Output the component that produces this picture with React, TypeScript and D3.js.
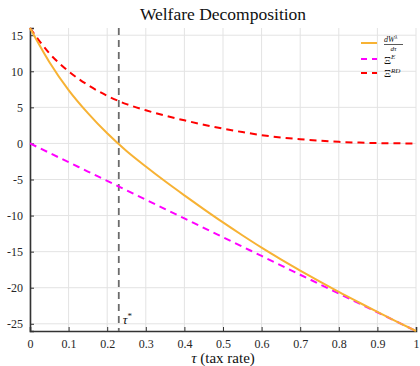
import * as d3 from "d3";
import React, { useEffect, useRef } from "react";

const tau = [0, 0.05, 0.1, 0.15, 0.2, 0.25, 0.3, 0.35, 0.4, 0.45, 0.5, 0.55, 0.6, 0.65, 0.7, 0.75, 0.8, 0.85, 0.9, 0.95, 1];
const xiRD = [16, 12.5, 10.0, 8.1, 6.6, 5.45, 4.6, 3.85, 3.2, 2.6, 2.05, 1.57, 1.15, 0.83, 0.58, 0.38, 0.22, 0.12, 0.05, 0.015, 0];
const xiE = [0, -1.3, -2.6, -3.9, -5.2, -6.5, -7.8, -9.1, -10.4, -11.7, -13, -14.3, -15.6, -16.9, -18.2, -19.5, -20.8, -22.1, -23.4, -24.7, -26];
const dW = [16, 11.3, 7.4, 4.2, 1.4, -1.05, -3.2, -5.25, -7.2, -9.1, -10.95, -12.73, -14.45, -16.07, -17.62, -19.12, -20.58, -21.98, -23.35, -24.69, -26];
const tauStar = 0.23;
const xTicks = [0, 0.1, 0.2, 0.3, 0.4, 0.5, 0.6, 0.7, 0.8, 0.9, 1];
const yTicks = [-25, -20, -15, -10, -5, 0, 5, 10, 15];

const serif = "'Liberation Serif', 'DejaVu Serif', serif";

const App = () => {
  const svgRef = useRef<SVGSVGElement>(null);

  useEffect(() => {
    const W = 420,
      H = 366;
    const margin = { top: 28, right: 4, bottom: 35, left: 30 };
    const width = W - margin.left - margin.right,
      height = H - margin.top - margin.bottom;

    const svg = d3.select(svgRef.current).html("");

    const x = d3.scaleLinear().domain([0, 1]).range([0, width]);
    const y = d3.scaleLinear().domain([-26, 16]).range([height, 0]);

    const chart = svg.append("g").attr("transform", `translate(${margin.left},${margin.top})`);

    // grid
    chart
      .append("g")
      .selectAll("line")
      .data(xTicks)
      .join("line")
      .attr("x1", (d) => x(d))
      .attr("x2", (d) => x(d))
      .attr("y1", 0)
      .attr("y2", height)
      .attr("stroke", "#e3e3e3")
      .attr("stroke-width", 1);
    chart
      .append("g")
      .selectAll("line")
      .data(yTicks)
      .join("line")
      .attr("x1", 0)
      .attr("x2", width)
      .attr("y1", (d) => y(d))
      .attr("y2", (d) => y(d))
      .attr("stroke", "#e3e3e3")
      .attr("stroke-width", 1);

    // axes (ticks pointing inward, like matlab), plain hyphen for minus
    const fmt = (d: any) => String(+d);
    const xAxis = chart
      .append("g")
      .attr("transform", `translate(0,${height})`)
      .call(d3.axisBottom(x).tickValues(xTicks).tickSize(-4).tickPadding(8).tickFormat(fmt));
    const yAxis = chart
      .append("g")
      .call(d3.axisLeft(y).tickValues(yTicks).tickSize(-4).tickPadding(7).tickFormat(fmt));

    [xAxis, yAxis].forEach((a) => {
      a.attr("font-family", serif).attr("font-size", 12);
      a.select(".domain").attr("stroke", "#333").attr("stroke-width", 1.6);
      a.selectAll(".tick line").attr("stroke", "#333").attr("stroke-width", 1);
      a.selectAll(".tick text").attr("fill", "#262626");
    });

    const line = (vals: number[]) =>
      d3
        .line<number>()
        .x((d, i) => x(tau[i]))
        .y((d) => y(d))
        .curve(d3.curveMonotoneX)(vals);

    // tau* marker
    chart
      .append("line")
      .attr("x1", x(tauStar))
      .attr("x2", x(tauStar))
      .attr("y1", 0)
      .attr("y2", height)
      .attr("stroke", "#6b6b6b")
      .attr("stroke-width", 1.8)
      .attr("stroke-dasharray", "7,5");

    chart
      .append("path")
      .attr("d", line(xiRD))
      .attr("fill", "none")
      .attr("stroke", "#ff0000")
      .attr("stroke-width", 2)
      .attr("stroke-dasharray", "7,5");

    chart
      .append("path")
      .attr("d", line(xiE))
      .attr("fill", "none")
      .attr("stroke", "#ff00ff")
      .attr("stroke-width", 2)
      .attr("stroke-dasharray", "7,5");

    chart
      .append("path")
      .attr("d", line(dW))
      .attr("fill", "none")
      .attr("stroke", "#f7b234")
      .attr("stroke-width", 2);

    const starLabel = chart
      .append("text")
      .attr("x", x(tauStar) + 4)
      .attr("y", height - 7)
      .style("font-family", serif)
      .style("font-size", "13px")
      .attr("fill", "#111");
    starLabel.append("tspan").style("font-style", "italic").text("τ");
    starLabel.append("tspan").attr("dy", -5).style("font-size", "9px").text("*");

    // title and x label
    svg
      .append("text")
      .attr("x", margin.left + width / 2)
      .attr("y", 20)
      .attr("text-anchor", "middle")
      .style("font-family", serif)
      .style("font-size", "17.5px")
      .attr("fill", "#111")
      .text("Welfare Decomposition");

    const xl = svg
      .append("text")
      .attr("x", margin.left + width / 2)
      .attr("y", 363)
      .attr("text-anchor", "middle")
      .style("font-family", serif)
      .style("font-size", "15px")
      .attr("fill", "#111");
    xl.append("tspan").style("font-style", "italic").text("τ");
    xl.append("tspan").text("  (tax rate)");

    // legend
    const lg = svg.append("g").attr("transform", "translate(361,0)");
    lg.append("line").attr("x1", 0).attr("x2", 16).attr("y1", 43).attr("y2", 43)
      .attr("stroke", "#f7b234").attr("stroke-width", 2);
    lg.append("line").attr("x1", 0).attr("x2", 16).attr("y1", 59).attr("y2", 59)
      .attr("stroke", "#ff00ff").attr("stroke-width", 2).attr("stroke-dasharray", "6,5");
    lg.append("line").attr("x1", 0).attr("x2", 16).attr("y1", 73).attr("y2", 73)
      .attr("stroke", "#ff0000").attr("stroke-width", 2).attr("stroke-dasharray", "6,5");

    const lt = (xx: number, yy: number, size: number) =>
      lg.append("text").attr("x", xx).attr("y", yy)
        .style("font-family", serif).style("font-size", `${size}px`).attr("fill", "#111");

    const num = lt(23, 42, 8);
    num.append("tspan").style("font-style", "italic").text("dW");
    num.append("tspan").attr("dy", -3).style("font-size", "6px").style("font-style", "italic").text("λ");
    lg.append("line").attr("x1", 23).attr("x2", 42).attr("y1", 44.5).attr("y2", 44.5)
      .attr("stroke", "#111").attr("stroke-width", 0.7);
    lt(32.5, 50.5, 7).attr("text-anchor", "middle").style("font-style", "italic").text("dτ");

    const e = lt(23, 63.5, 11);
    e.append("tspan").text("Ξ");
    e.append("tspan").attr("dy", -4.5).style("font-size", "7px").style("font-style", "italic").text("E");
    const rd = lt(23, 77, 11);
    rd.append("tspan").text("Ξ");
    rd.append("tspan").attr("dy", -4.5).style("font-size", "7px").style("font-style", "italic").text("RD");
  }, []);

  return (
    <svg
      ref={svgRef}
      width={420}
      height={366}
      style={{ position: "absolute", left: 0, top: 0, background: "#fff" }}
    />
  );
};

export default App;
